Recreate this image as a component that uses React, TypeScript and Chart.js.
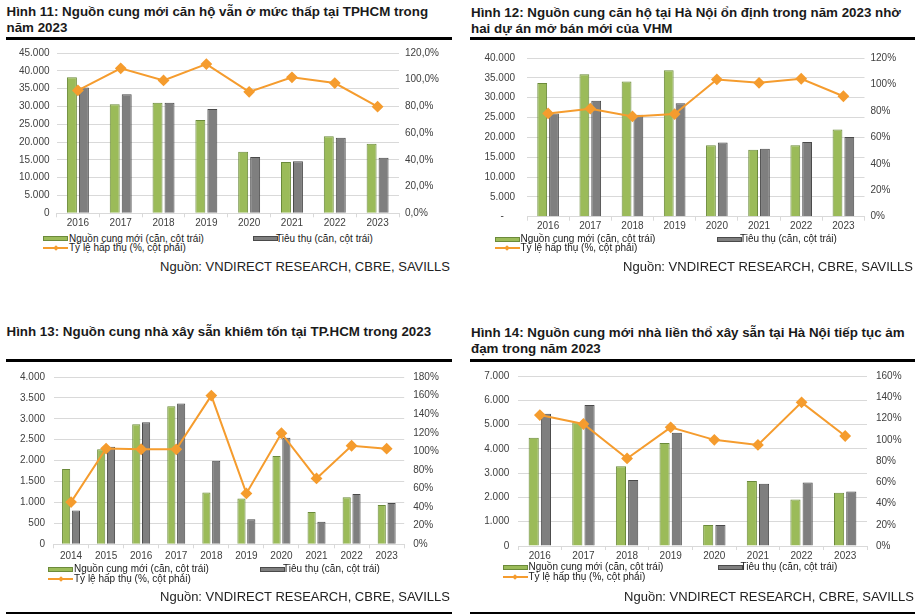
import React, { useEffect, useRef } from 'react';
import { Chart, registerables } from 'chart.js';
Chart.register(...registerables);

// ---------- data ----------
const YEARS_2016 = ['2016', '2017', '2018', '2019', '2020', '2021', '2022', '2023'];
const YEARS_2014 = ['2014', '2015', '2016', '2017', '2018', '2019', '2020', '2021', '2022', '2023'];

const hcmAptSupply = [38200, 30600, 31000, 26200, 17300, 14400, 21600, 19500];
const hcmAptSales = [35300, 33400, 31000, 29300, 15800, 14600, 21200, 15600];
const hcmAptRate = [92.0, 108.5, 99.5, 111.7, 90.9, 101.8, 97.5, 79.8];

const hnAptSupply = [33700, 35900, 34100, 36900, 18000, 16900, 18000, 22000];
const hnAptSales = [26000, 29200, 25700, 28600, 18700, 17100, 18800, 20100];
const hnAptRate = [78.1, 81.7, 75.8, 77.6, 103.8, 101.2, 104.3, 91.1];

const hcmHouseSupply = [1800, 2270, 2870, 3300, 1240, 1095, 2110, 770, 1125, 940];
const hcmHouseSales = [810, 2330, 2920, 3365, 2000, 600, 2550, 540, 1200, 990];
const hcmHouseRate = [45.4, 103.0, 102.3, 102.2, 160.0, 54.7, 119.5, 70.9, 106.0, 102.9];

const hnHouseSupply = [4460, 5100, 3280, 4240, 860, 2680, 1910, 2190];
const hnHouseSales = [5450, 5810, 2720, 4660, 860, 2560, 2615, 2245];
const hnHouseRate = [123.2, 114.8, 82.4, 111.7, 99.9, 95.1, 135.2, 103.5];

const LEGEND_SUPPLY = 'Nguồn cung mới (căn, cột trái)';
const LEGEND_SALES = 'Tiêu thụ (căn, cột trái)';
const LEGEND_RATE = 'Tỷ lệ hấp thụ (%, cột phải)';
const SOURCE = 'Nguồn: VNDIRECT RESEARCH, CBRE, SAVILLS';

// ---------- styles ----------
const FONT = '"Liberation Sans", Arial, sans-serif';
const GREEN = '#9BBB59';
const GREEN_B = '#6B8A3A';
const GRAY = '#7F7F7F';
const GRAY_B = '#4A4A4A';
const ORANGE = '#F59C2E';
const GRID = '#D9D9D9';
const TICK = '#404040';

const fmtThousands = (v: number) => {
  const s = Math.round(v).toString();
  return s.replace(/\B(?=(\d{3})+(?!\d))/g, '.');
};

type Box = { x: number; y: number; w: number; h: number };
type Area = { l: number; t: number; r: number; b: number };

type Spec = {
  labels: string[];
  supply: number[];
  sales: number[];
  rate: number[];
  yMax: number;
  yStep: number;
  rMax: number;
  rStep: number;
  rDecimals: number;
  zeroDash: boolean;
  canvas: Box;
  area: Area;
  leftPad: number;
  rightPad: number;
  xPad: number;
};

function ChartBox({ spec }: { spec: Spec }) {
  const ref = useRef<HTMLCanvasElement | null>(null);
  useEffect(() => {
    if (!ref.current) return;
    const { canvas: c, area: a } = spec;
    const chart = new Chart(ref.current, {
      type: 'bar',
      data: {
        labels: spec.labels,
        datasets: [
          {
            type: 'line',
            label: LEGEND_RATE,
            data: spec.rate,
            yAxisID: 'y2',
            borderColor: ORANGE,
            backgroundColor: ORANGE,
            borderWidth: 2,
            pointStyle: 'rectRot',
            pointRadius: 4.5,
            pointBackgroundColor: ORANGE,
            pointBorderColor: ORANGE,
            tension: 0,
            order: 0,
          } as any,
          {
            type: 'bar',
            label: LEGEND_SUPPLY,
            data: spec.supply,
            yAxisID: 'y',
            backgroundColor: GREEN,
            borderColor: GREEN_B,
            borderWidth: 1,
            categoryPercentage: 0.56,
            barPercentage: 0.83,
            order: 1,
          },
          {
            type: 'bar',
            label: LEGEND_SALES,
            data: spec.sales,
            yAxisID: 'y',
            backgroundColor: GRAY,
            borderColor: GRAY_B,
            borderWidth: 1,
            categoryPercentage: 0.56,
            barPercentage: 0.83,
            order: 1,
          },
        ],
      },
      options: {
        animation: false,
        responsive: false,
        devicePixelRatio: 1,
        layout: { padding: { top: a.t - c.y, left: 0, right: 0, bottom: 0 } },
        plugins: { legend: { display: false }, tooltip: { enabled: false }, title: { display: false } },
        scales: {
          x: {
            offset: true,
            grid: { display: true, drawOnChartArea: false, drawTicks: true, tickLength: 4, color: GRID, offset: true },
            border: { display: true, color: GRID },
            ticks: { padding: spec.xPad, color: TICK, font: { family: FONT, size: 10 } },
            afterFit: (s: any) => {
              s.height = c.h - (a.b - c.y);
            },
          } as any,
          y: {
            position: 'left',
            min: 0,
            max: spec.yMax,
            ticks: {
              stepSize: spec.yStep,
              padding: spec.leftPad,
              color: TICK,
              font: { family: FONT, size: 10 },
              callback: (v: any) => (Number(v) === 0 && spec.zeroDash ? '-    ' : fmtThousands(Number(v))),
            },
            grid: { color: GRID, drawTicks: false },
            border: { display: false },
            afterFit: (s: any) => {
              s.width = a.l - c.x;
            },
          } as any,
          y2: {
            position: 'right',
            min: 0,
            max: spec.rMax,
            ticks: {
              stepSize: spec.rStep,
              padding: spec.rightPad,
              color: TICK,
              font: { family: FONT, size: 10 },
              callback: (v: any) => Number(v).toFixed(spec.rDecimals).replace('.', ',') + '%',
            },
            grid: { display: false, drawTicks: false },
            border: { display: false },
            afterFit: (s: any) => {
              s.width = c.x + c.w - a.r;
            },
          } as any,
        },
      },
    });
    return () => chart.destroy();
  }, [spec]);
  const c = spec.canvas;
  return (
    <canvas
      ref={ref}
      width={c.w}
      height={c.h}
      style={{ position: 'absolute', left: c.x, top: c.y, width: c.w, height: c.h }}
    />
  );
}

function Legend({ x, y1, y2, grayX }: { x: number; y1: number; y2: number; grayX: number }) {
  const text: React.CSSProperties = {
    position: 'absolute',
    fontFamily: FONT,
    fontSize: 10,
    lineHeight: '12px',
    color: '#1a1a1a',
    whiteSpace: 'nowrap',
  };
  const rect = (left: number, top: number, bg: string, bd: string): React.CSSProperties => ({
    position: 'absolute',
    left,
    top: top - 2.5,
    width: 25,
    height: 5,
    background: bg,
    border: `1px solid ${bd}`,
    boxSizing: 'border-box',
  });
  return (
    <>
      <div style={rect(x, y1, GREEN, GREEN_B)} />
      <div style={{ ...text, left: x + 26, top: y1 - 6 }}>{LEGEND_SUPPLY}</div>
      <div style={rect(grayX, y1, GRAY, GRAY_B)} />
      <div style={{ ...text, left: grayX + 23, top: y1 - 6 }}>{LEGEND_SALES}</div>
      <div style={{ position: 'absolute', left: x, top: y2 - 1, width: 25, height: 2, background: ORANGE }} />
      <div
        style={{
          position: 'absolute',
          left: x + 10.5,
          top: y2 - 2,
          width: 4,
          height: 4,
          background: ORANGE,
          transform: 'rotate(45deg)',
        }}
      />
      <div style={{ ...text, left: x + 26, top: y2 - 6 }}>{LEGEND_RATE}</div>
    </>
  );
}

function Title({ x, y, lines }: { x: number; y: number; lines: string[] }) {
  return (
    <div
      style={{
        position: 'absolute',
        left: x,
        top: y,
        fontFamily: FONT,
        fontWeight: 'bold',
        fontSize: 13.35,
        lineHeight: '16px',
        color: '#1a1a1a',
        whiteSpace: 'nowrap',
      }}
    >
      {lines.map((l, i) => (
        <div key={i}>{l}</div>
      ))}
    </div>
  );
}

function Rule({ x1, x2, y, h }: { x1: number; x2: number; y: number; h: number }) {
  return <div style={{ position: 'absolute', left: x1, top: y, width: x2 - x1, height: h, background: '#000' }} />;
}

function Source({ right, y }: { right: number; y: number }) {
  return (
    <div
      style={{
        position: 'absolute',
        left: right - 400,
        width: 400,
        top: y - 8,
        textAlign: 'right',
        fontFamily: FONT,
        fontSize: 13,
        lineHeight: '16px',
        color: '#222',
        whiteSpace: 'nowrap',
      }}
    >
      {SOURCE}
    </div>
  );
}

const SPEC1: Spec = {
  labels: YEARS_2016,
  supply: hcmAptSupply,
  sales: hcmAptSales,
  rate: hcmAptRate,
  yMax: 45000,
  yStep: 5000,
  rMax: 120,
  rStep: 20,
  rDecimals: 1,
  zeroDash: false,
  canvas: { x: 6, y: 40, w: 446, h: 193 },
  area: { l: 56.5, t: 47, r: 399, b: 213.3 },
  leftPad: 7,
  rightPad: 6,
  xPad: 0,
};

const SPEC2: Spec = {
  labels: YEARS_2016,
  supply: hnAptSupply,
  sales: hnAptSales,
  rate: hnAptRate,
  yMax: 40000,
  yStep: 5000,
  rMax: 120,
  rStep: 20,
  rDecimals: 0,
  zeroDash: true,
  canvas: { x: 470, y: 40, w: 446, h: 196 },
  area: { l: 527, t: 47, r: 864.5, b: 216.7 },
  leftPad: 12,
  rightPad: 6,
  xPad: 0,
};

const SPEC3: Spec = {
  labels: YEARS_2014,
  supply: hcmHouseSupply,
  sales: hcmHouseSales,
  rate: hcmHouseRate,
  yMax: 4000,
  yStep: 500,
  rMax: 180,
  rStep: 20,
  rDecimals: 0,
  zeroDash: false,
  canvas: { x: 6, y: 362, w: 446, h: 204 },
  area: { l: 53.5, t: 370, r: 404.2, b: 544.3 },
  leftPad: 8.5,
  rightPad: 9,
  xPad: 1.5,
};

const SPEC4: Spec = {
  labels: YEARS_2016,
  supply: hnHouseSupply,
  sales: hnHouseSales,
  rate: hnHouseRate,
  yMax: 7000,
  yStep: 1000,
  rMax: 160,
  rStep: 20,
  rDecimals: 0,
  zeroDash: false,
  canvas: { x: 470, y: 361, w: 446, h: 205 },
  area: { l: 518, t: 369.3, r: 867, b: 546 },
  leftPad: 8.7,
  rightPad: 9,
  xPad: 0,
};

export default function App() {
  return (
    <div
      style={{
        position: 'fixed',
        left: 0,
        top: 0,
        width: 921,
        height: 615,
        background: '#fff',
        overflow: 'hidden',
      }}
    >
      <Title x={6.5} y={4} lines={['Hình 11: Nguồn cung mới căn hộ vẫn ở mức thấp tại TPHCM trong', 'năm 2023']} />
      <Rule x1={6} x2={452} y={37} h={3} />
      <ChartBox spec={SPEC1} />
      <Legend x={43} y1={238.5} y2={248.3} grayX={253} />
      <Source right={450} y={266.7} />

      <Title x={471} y={4.5} lines={['Hình 12: Nguồn cung căn hộ tại Hà Nội ổn định trong năm 2023 nhờ', 'hai dự án mở bán mới của VHM']} />
      <Rule x1={470} x2={915} y={37} h={3} />
      <ChartBox spec={SPEC2} />
      <Legend x={494.5} y1={239} y2={248.3} grayX={717} />
      <Source right={913} y={267} />

      <Title x={6.5} y={324.3} lines={['Hình 13: Nguồn cung nhà xây sẵn khiêm tốn tại TP.HCM trong 2023']} />
      <Rule x1={6} x2={452} y={359} h={3} />
      <ChartBox spec={SPEC3} />
      <Legend x={48} y1={569} y2={579.3} grayX={260} />
      <Source right={450} y={596.7} />
      <Rule x1={6} x2={452} y={612} h={2} />

      <Title x={471} y={324.7} lines={['Hình 14: Nguồn cung mới nhà liền thổ xây sẵn tại Hà Nội tiếp tục ảm', 'đạm trong năm 2023']} />
      <Rule x1={470} x2={915} y={359} h={3} />
      <ChartBox spec={SPEC4} />
      <Legend x={502.5} y1={567.3} y2={577.3} grayX={717.5} />
      <Source right={914} y={596.7} />
      <Rule x1={470} x2={915} y={612} h={2} />
    </div>
  );
}
